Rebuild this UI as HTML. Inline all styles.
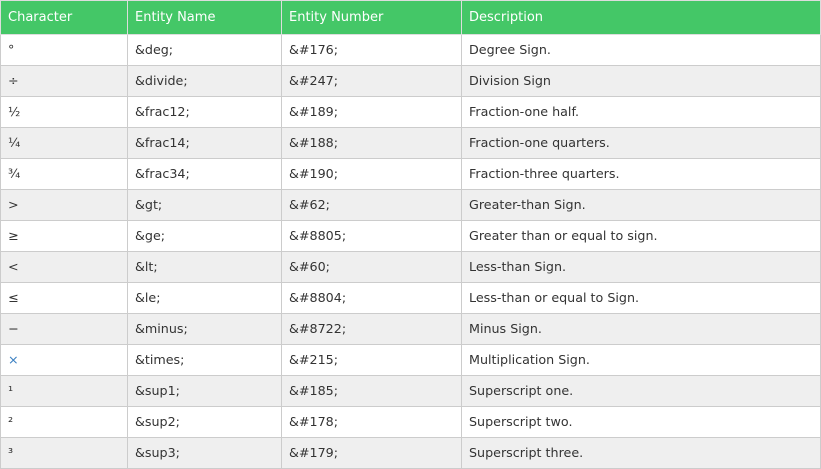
<!DOCTYPE html>
<html><head><meta charset="utf-8"><style>
body{margin:0;width:821px;height:469px;background:#fff;overflow:hidden;font-family:"DejaVu Sans","Liberation Sans",sans-serif;}
table{position:absolute;left:0;top:0;border-collapse:collapse;width:820px;table-layout:fixed;font-size:12.7px;color:#333;}
td,th{border:1px solid #ccc;padding:0 0 1px 7px;text-align:left;height:29px;white-space:nowrap;}
th{background:#44c767;color:#fff;font-weight:normal;height:32px;border-color:#ddd;font-size:13px;}
tr:nth-child(even) td{background:#efefef;}
.blue{color:#3a7fc1;}
</style></head><body>
<table>
<colgroup><col style="width:127px"><col style="width:154px"><col style="width:180px"><col style="width:359px"></colgroup>
<thead><tr><th>Character</th><th>Entity Name</th><th>Entity Number</th><th>Description</th></tr></thead>
<tbody>
<tr><td>°</td><td>&amp;deg;</td><td>&amp;#176;</td><td>Degree Sign.</td></tr>
<tr><td>÷</td><td>&amp;divide;</td><td>&amp;#247;</td><td>Division Sign</td></tr>
<tr><td>½</td><td>&amp;frac12;</td><td>&amp;#189;</td><td>Fraction-one half.</td></tr>
<tr><td>¼</td><td>&amp;frac14;</td><td>&amp;#188;</td><td>Fraction-one quarters.</td></tr>
<tr><td>¾</td><td>&amp;frac34;</td><td>&amp;#190;</td><td>Fraction-three quarters.</td></tr>
<tr><td>&gt;</td><td>&amp;gt;</td><td>&amp;#62;</td><td>Greater-than Sign.</td></tr>
<tr><td>≥</td><td>&amp;ge;</td><td>&amp;#8805;</td><td>Greater than or equal to sign.</td></tr>
<tr><td>&lt;</td><td>&amp;lt;</td><td>&amp;#60;</td><td>Less-than Sign.</td></tr>
<tr><td>≤</td><td>&amp;le;</td><td>&amp;#8804;</td><td>Less-than or equal to Sign.</td></tr>
<tr><td>−</td><td>&amp;minus;</td><td>&amp;#8722;</td><td>Minus Sign.</td></tr>
<tr><td class="blue">×</td><td>&amp;times;</td><td>&amp;#215;</td><td>Multiplication Sign.</td></tr>
<tr><td>¹</td><td>&amp;sup1;</td><td>&amp;#185;</td><td>Superscript one.</td></tr>
<tr><td>²</td><td>&amp;sup2;</td><td>&amp;#178;</td><td>Superscript two.</td></tr>
<tr><td>³</td><td>&amp;sup3;</td><td>&amp;#179;</td><td>Superscript three.</td></tr>
</tbody></table>
</body></html>
